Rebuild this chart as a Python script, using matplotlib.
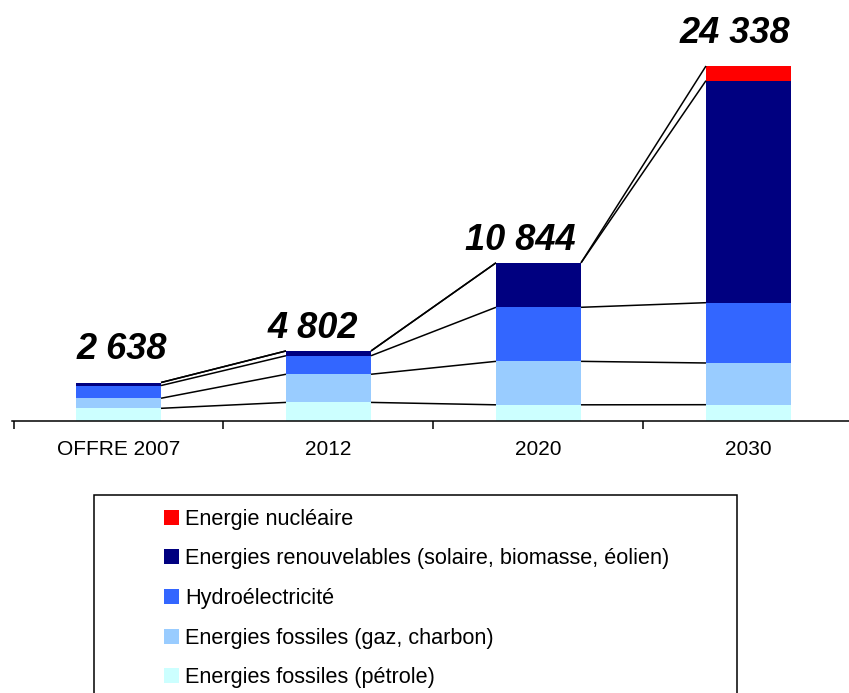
import numpy as np
from matplotlib import pyplot as plt
from matplotlib.patches import Rectangle

categories = ['OFFRE 2007', '2012', '2020', '2030']
totals = [2638, 4802, 10844, 24338]

# stacked from bottom to top
petrole = [870, 1275, 1110, 1118]
gaz_charbon = [690, 1930, 2980, 2859]
hydro = [870, 1270, 3705, 4134]
renouvelables = [208, 327, 3049, 15221]
nucleaire = [0, 0, 0, 1006]

series = [petrole, gaz_charbon, hydro, renouvelables, nucleaire]
colors = ['#CCFFFF', '#99CCFF', '#3366FF', '#000080', '#FF0000']
labels = ['Energies fossiles (pétrole)', 'Energies fossiles (gaz, charbon)', 'Hydroélectricité',
          'Energies renouvelables (solaire, biomasse, éolien)', 'Energie nucléaire']

plt.rcParams['font.family'] = ['Liberation Sans', 'DejaVu Sans']

W, H = 849, 693
fig = plt.figure(figsize=(W / 100, H / 100), dpi=100)
ax = fig.add_axes([12 / W, (H - 421) / H, (W - 12) / W, 421 / H])

x = np.arange(len(categories))
width = 0.405
bottom = np.zeros(len(categories))
tops = []
for vals, col in zip(series, colors):
    ax.bar(x, vals, width, bottom=bottom, color=col, linewidth=0, zorder=2)
    bottom = bottom + np.array(vals)
    tops.append(bottom.copy())

# series lines between bars
for cum in tops:
    for i in range(len(categories) - 1):
        ax.plot([x[i] + width / 2, x[i + 1] - width / 2], [cum[i], cum[i + 1]],
                color='black', lw=1.1, zorder=3, solid_capstyle='butt')

# total labels (offsets in pixels)
label_offsets = [(3.5, 24), (-15.5, 13), (-18.5, 13), (-13.5, 23)]
for i, t in enumerate(totals):
    txt = f"{t:,}".replace(',', ' ')
    ax.annotate(txt, (x[i], t), xytext=label_offsets[i], textcoords='offset pixels',
                ha='center', va='baseline', fontsize=26, fontweight='bold', fontstyle='italic')

x0 = -0.5 - 1.5 / 210
ax.set_xlim(x0, x0 + (W - 12) / 210)
ax.set_ylim(0, 421 * 24338 / 355)
for s in ['left', 'right', 'top']:
    ax.spines[s].set_visible(False)
ax.spines['bottom'].set_linewidth(1.1)
ax.set_yticks([])
ax.set_xticks(x)
ax.set_xticklabels(categories, fontsize=15)
ax.tick_params(axis='x', which='major', length=0, pad=14)
ax.set_xticks(np.arange(-0.5, 3.0, 1.0), minor=True)
ax.tick_params(axis='x', which='minor', length=6, width=1.1, direction='out')

# legend box drawn by hand
fig.add_artist(Rectangle((94 / W, (H - 760) / H), (737 - 94) / W, 265 / H,
                         transform=fig.transFigure, fill=False, edgecolor='black', lw=1.1))
row_y = 517
for lab, col in zip(labels[::-1], colors[::-1]):
    fig.add_artist(Rectangle((164 / W, (H - row_y - 7.5) / H), 15 / W, 15 / H,
                             transform=fig.transFigure, facecolor=col, edgecolor='none'))
    fig.text(185 / W, (H - row_y - 7.5) / H, lab, fontsize=15.6, va='baseline', ha='left')
    row_y += 39.7

fig.savefig('out.png', dpi=100)
